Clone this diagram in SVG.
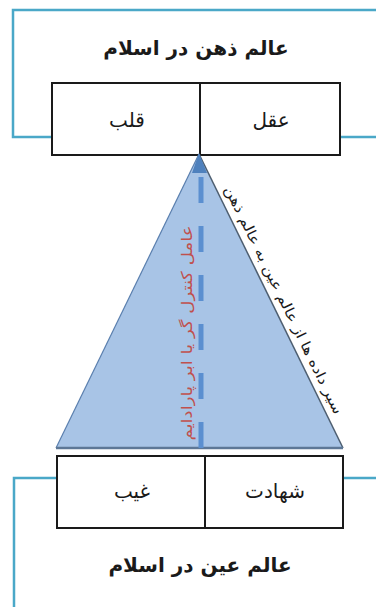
<svg xmlns="http://www.w3.org/2000/svg" width="376" height="607" viewBox="0 0 376 607">
<style>
.frame{fill:none;stroke:#4aa8c8;stroke-width:2.5}
.box{fill:#ffffff;stroke:#1a1a1a;stroke-width:2}
.t{font-family:"DejaVu Sans",sans-serif;fill:#1a1a1a;text-anchor:middle}
.title{font-size:20px;font-weight:bold}
.lbl{font-size:20px}
.side{font-size:14px}
.red{font-family:"DejaVu Sans",sans-serif;font-size:15px;fill:#c0504d;text-anchor:middle}
</style>
<rect width="376" height="607" fill="#ffffff"/>
<g id="mind-world">
<rect class="frame" x="13" y="10" width="400" height="127"/>
<text class="t title" x="196" y="55">عالم ذهن در اسلام</text>
</g>
<g id="qalb">
<rect class="box" x="52" y="83" width="148" height="72"/>
<text class="t lbl" x="127" y="127">قلب</text>
</g>
<g id="aql">
<rect class="box" x="200" y="83" width="140" height="72"/>
<text class="t lbl" x="271" y="127">عقل</text>
</g>
<g id="real-world">
<rect class="frame" x="14" y="478" width="400" height="200"/>
<text class="t title" x="200" y="572">عالم عین در اسلام</text>
</g>
<g id="gheyb">
<rect class="box" x="57" y="456" width="148" height="72"/>
<text class="t lbl" x="132" y="498">غیب</text>
</g>
<g id="shahadat">
<rect class="box" x="205" y="456" width="138" height="72"/>
<text class="t lbl" x="275" y="498">شهادت</text>
</g>
<g id="triangle">
<polygon points="199,154 343,448 56,448" fill="#a8c4e6"/>
<line x1="199" y1="154" x2="56" y2="448" stroke="#5a7fae" stroke-width="1.2"/>
<line x1="199" y1="154" x2="343" y2="448" stroke="#4d5e70" stroke-width="1.5"/>
<line x1="56" y1="448" x2="343" y2="448" stroke="#5d7796" stroke-width="2.5"/>
<text class="t side" transform="translate(279.5,302) rotate(64)" textLength="252" lengthAdjust="spacingAndGlyphs">سیر داده ها از عالم عین به عالم ذهن</text>
</g>
<g id="connectors">
<line x1="201" y1="448" x2="201" y2="177" stroke="#5b8fd0" stroke-width="5" stroke-dasharray="26 23"/>
<polygon points="199,153 192,173 207,173" fill="#4f81bd"/>
<text class="red" transform="translate(192,333) rotate(-90)" textLength="215" lengthAdjust="spacingAndGlyphs">عامل کنترل گر یا ابر پارادایم</text>
</g>
</svg>
